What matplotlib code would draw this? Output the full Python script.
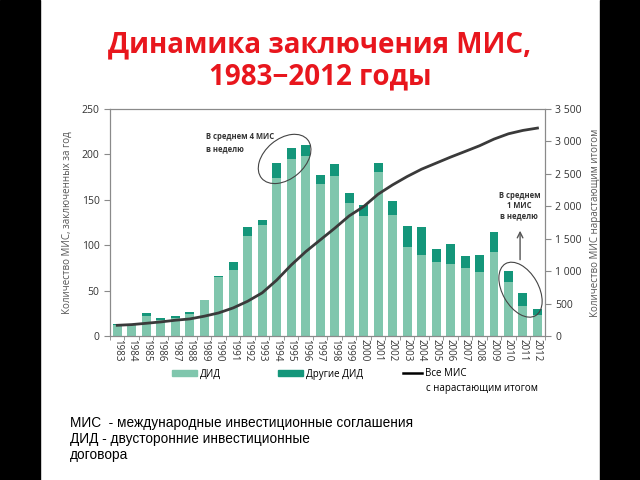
import matplotlib
matplotlib.use("Agg")
import matplotlib.pyplot as plt
import numpy as np
from matplotlib.patches import Ellipse, Rectangle, Patch
from matplotlib.lines import Line2D
from matplotlib.transforms import ScaledTranslation

plt.rcParams["font.family"] = ["Open Sans", "DejaVu Sans"]

# ---- данные ----
years = list(range(1983, 2013))
bit = [12, 13, 22, 18, 20, 24, 40, 65, 73, 110, 122, 174, 195, 198, 167,
       176, 147, 132, 181, 133, 98, 89, 81, 79, 75, 70, 93, 60, 33, 23]
other = [1.5, 0, 3, 1.5, 1.5, 2, 0, 1, 8, 10, 6, 17, 12.5, 12.5, 10,
         13, 11, 12, 10, 16, 23, 31, 15, 22, 13, 19, 22, 12, 14, 7]
cumulative = [165, 176, 196, 217, 243, 263, 305, 356, 433, 536, 665, 861,
              1093, 1299, 1480, 1660, 1851, 1995, 2186, 2330, 2458, 2572,
              2665, 2758, 2845, 2933, 3036, 3118, 3170, 3206]
left_ticks = [0, 50, 100, 150, 200, 250]
right_ticks = [0, 500, 1000, 1500, 2000, 2500, 3000, 3500]

LIGHT = "#80c6ad"
DARK = "#14967a"
GREY = "#8a8a8a"
TXT = "#333333"

fig = plt.figure(figsize=(6.4, 4.8), dpi=100)
ax = fig.add_axes([110 / 640, 1 - 336 / 480, 435 / 640, 227 / 480])
ax2 = ax.twinx()

ax.bar(years, bit, width=0.62, color=LIGHT, zorder=2)
ax.bar(years, other, width=0.62, bottom=bit, color=DARK, zorder=2)
ax2.plot(years, cumulative, color="#3a3a3a", lw=2, zorder=3)

ax.set_xlim(1982.52, 2012.52)
ax.set_ylim(0, 250)
ax2.set_ylim(0, 3500)

ax.set_xticks(years)
ax.set_xticklabels([str(y) for y in years], rotation=270, fontsize=7, color=TXT)
ax.set_xticks(np.arange(1982.5, 2013, 1), minor=True)
ax.tick_params(axis="x", which="major", length=0, pad=2)
ax.tick_params(axis="x", which="minor", length=3, color=GREY, direction="out")

ax.set_yticks(left_ticks)
ax.tick_params(axis="y", labelsize=7.5, colors=TXT, length=4, color=GREY)
ax2.set_yticks(right_ticks)
ax2.set_yticklabels([f"{v:,}".replace(",", " ") for v in right_ticks])
ax2.tick_params(axis="y", labelsize=7.5, colors=TXT, length=4, color=GREY)

for a in (ax, ax2):
    for s in a.spines.values():
        s.set_color(GREY)
        s.set_linewidth(0.8)

ax.set_ylabel("Количество МИС, заключенных за год", fontsize=7, color="#555555", labelpad=6)
ax2.set_ylabel("Количество МИС нарастающим итогом", fontsize=7, color="#555555", labelpad=6)

# ---- аннотации ----
ax.text(1989.1, 225, "В среднем 4 МИС\nв неделю", fontsize=5.5, color=TXT,
        va="top", ha="left", linespacing=1.5, fontweight="bold")
e1 = Ellipse((0, 0), 0.6, 0.4, angle=40, fill=False, ec="#444444", lw=0.8,
             transform=fig.dpi_scale_trans + ScaledTranslation(1994.55, 195, ax.transData))
fig.add_artist(e1)
e2 = Ellipse((0, 0), 0.6, 0.36, angle=-60, fill=False, ec="#444444", lw=0.8,
             transform=fig.dpi_scale_trans + ScaledTranslation(2010.83, 51, ax.transData))
fig.add_artist(e2)
ax.annotate("", xy=(2010.8, 119), xytext=(2010.8, 81),
            arrowprops=dict(arrowstyle="->", color="#555555", lw=1))
ax.text(2010.75, 144, "В среднем\n1 МИС\nв неделю", fontsize=5.5, color=TXT,
        ha="center", va="center", linespacing=1.15, fontweight="bold")

# ---- легенда (три отдельные записи) ----
leg_kw = dict(frameon=False, fontsize=7, handleheight=0.5, handletextpad=0.3,
              borderpad=0, borderaxespad=0, loc="center left")
entries = [
    (Patch(color=LIGHT), "ДИД", 172, 2.6),
    (Patch(color=DARK), "Другие ДИД", 278, 2.6),
    (Line2D([], [], color="black", lw=1.8), "Все МИС", 403, 2.0),
]
for h, lab, xpix, hl in entries:
    lg = fig.legend([h], [lab], bbox_to_anchor=(xpix / 640, 1 - 374 / 480),
                    handlelength=hl, **leg_kw)
fig.text(426 / 640, 1 - 388 / 480, "с нарастающим итогом", fontsize=7, va="center", color="black")

# ---- заголовок ----
fig.text(0.5, 1 - 45 / 480, "Динамика заключения МИС,", fontsize=20, fontweight="bold",
         color="#e8161d", ha="center", va="center")
fig.text(0.5, 1 - 77 / 480, "1983−2012 годы", fontsize=20, fontweight="bold",
         color="#e8161d", ha="center", va="center")

# ---- подпись ----
fig.text(70 / 640, 1 - 439 / 480, "МИС  - международные инвестиционные соглашения\n"
         "ДИД - двусторонние инвестиционные\nдоговора",
         fontsize=9.8, family=["Liberation Sans", "DejaVu Sans"], va="center",
         linespacing=1.2, color="black")

# ---- черные поля ----
fig.add_artist(Rectangle((0, 0), 40 / 640, 1, transform=fig.transFigure, color="black"))
fig.add_artist(Rectangle((600 / 640, 0), 40 / 640, 1, transform=fig.transFigure, color="black"))

fig.savefig("out.png", dpi=100)
